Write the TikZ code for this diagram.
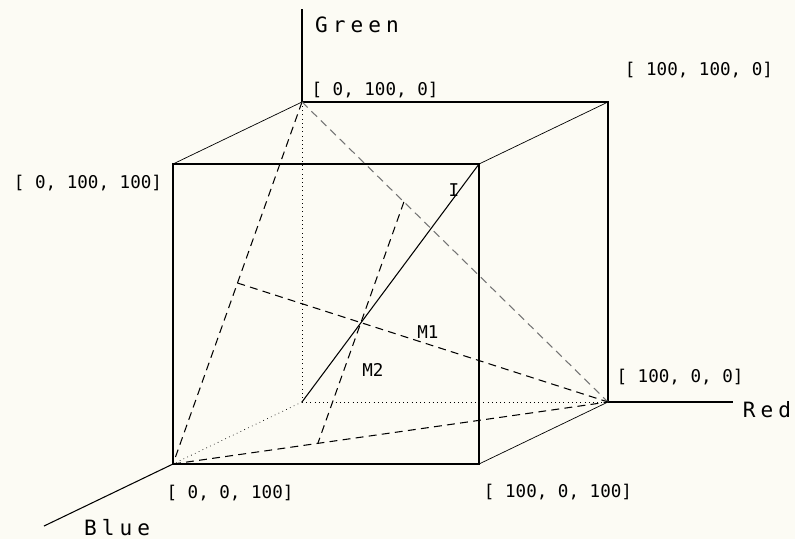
\documentclass[tikz,border=0pt]{standalone}
\usepackage{fontspec}
\newfontfamily\plotfont{DejaVu Sans Mono}
\newfontfamily\axisfont[LetterSpace=24]{DejaVu Sans Mono}
\usetikzlibrary{positioning}
\definecolor{paper}{RGB}{252,251,244}
\tikzset{
  edge/.style={semithick},
  slant/.style={thin},
  hidden/.style={thin, dotted},
  plane/.style={semithick, dash pattern=on 4.5pt off 3pt},
  faint/.style={plane, black!55},
  corner/.style={font=\plotfont\fontsize{10}{12}\selectfont, inner sep=1pt},
  axis label/.style={font=\axisfont\fontsize{12}{14}\selectfont, inner sep=1pt},
}

\begin{document}
\begin{tikzpicture}[x={(0.0612cm,0cm)}, y={(0cm,0.06cm)}, z={(-0.0258cm,-0.0124cm)}]

    % Frame
    \fill[paper] (-6.04cm,-2.74cm) rectangle (9.86cm,8.04cm);
    \useasboundingbox (-6.04cm,-2.74cm) rectangle (9.86cm,8.04cm);

    % Corners
    \coordinate (O)   at (0,0,0);
    \coordinate (R)   at (100,0,0);
    \coordinate (G)   at (0,100,0);
    \coordinate (B)   at (0,0,100);
    \coordinate (RG)  at (100,100,0);
    \coordinate (RB)  at (100,0,100);
    \coordinate (GB)  at (0,100,100);
    \coordinate (RGB) at (100,100,100);

    % Axis ends and plane points
    \coordinate (Rend) at (141,0,0);
    \coordinate (Gend) at (0,131,0);
    \coordinate (Bend) at (0,0,200);
    \coordinate (mGB) at (0,50,50);
    \coordinate (P1)  at (33.3,66.7,0);
    \coordinate (P2)  at (33.3,0,66.7);

    % Labels
    \node[axis label, anchor=west] (Gtext) at (0.22cm,7.54cm) {Green};
    \node[axis label] (Rtext) at (9.3cm,-0.16cm) {Red};
    \node[axis label] (Btext) at (-3.70cm,-2.52cm) {Blue};
    \node[corner] (Gl)   at (1.46cm,6.24cm) {[ 0, 100, 0]};
    \node[corner] (RGl)  at (7.94cm,6.64cm) {[ 100, 100, 0]};
    \node[corner] (GBl)  at (-4.28cm,4.38cm) {[ 0, 100, 100]};
    \node[corner] (Bl)   at (-1.44cm,-1.82cm) {[ 0, 0, 100]};
    \node[corner] (RBl)  at (5.12cm,-1.80cm) {[ 100, 0, 100]};
    \node[corner] (Rl)   at (7.56cm,0.50cm) {[ 100, 0, 0]};
    \node[corner] (Il)   at (3.04cm,4.24cm) {I};
    \node[corner] (M1l)  at (2.52cm,1.40cm) {M1};
    \node[corner] (M2l)  at (1.42cm,0.64cm) {M2};

    % Axes
    \draw[edge] (G) -- (Gend);
    \draw[edge] (R) -- (Rend);
    \draw[edge] (B) -- (Bend);

    % Hidden edges
    \draw[hidden] (O) -- (G);
    \draw[hidden] (O) -- (R);
    \draw[hidden] (O) -- (B);

    % Visible edges
    \draw[edge] (B) -- (RB) -- (RGB) -- (GB) -- cycle;
    \draw[slant] (GB) -- (G);
    \draw[edge] (G) -- (RG) -- (R);
    \draw[slant] (RG) -- (RGB);
    \draw[slant] (R) -- (RB);

    % Colour triangle
    \draw[plane] (G) -- (B);
    \draw[plane] (B) -- (R);
    \draw[faint] (G) -- (R);

    % Medians and grey axis
    \draw[plane] (mGB) -- (R);
    \draw[plane] (P1) -- (P2);
    \draw[edge] (O) -- (RGB);

\end{tikzpicture}
\end{document}
